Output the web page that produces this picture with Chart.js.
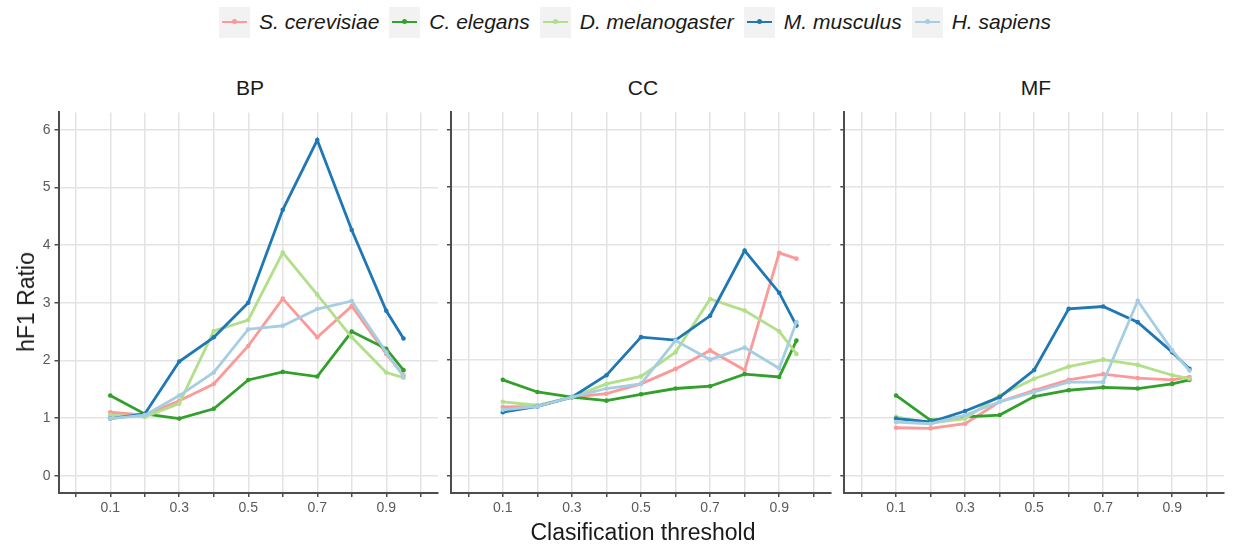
<!DOCTYPE html>
<html>
<head>
<meta charset="utf-8">
<script src="https://cdn.jsdelivr.net/npm/chart.js@4/dist/chart.umd.min.js"></script>
<style>
  html, body { margin: 0; padding: 0; background: #ffffff; }
  #wrap { position: relative; width: 1237px; height: 544px; overflow: hidden; background: #fff;
          font-family: "Liberation Sans", Arial, Helvetica, sans-serif; color: #1a1a1a; }
  canvas { position: absolute; }
  .strip { position: absolute; top: 74px; font-size: 21px; width: 200px; text-align: center; line-height: 28px; color: #1a1a1a; }
  #legend { position: absolute; left: 50px; width: 1170px; top: 7px; height: 30px; display: flex; justify-content: center; align-items: center; }
  .item { display: flex; align-items: center; margin: 0 5px; }
  .key { position: relative; width: 31px; height: 31px; background: #f2f2f2; margin-right: 9px; }
  .key .ln { position: absolute; left: 3px; right: 3px; top: 14px; height: 2.6px; }
  .key .pt { position: absolute; left: 13px; top: 12.5px; width: 5px; height: 5px; border-radius: 50%; }
  .lab { font-style: italic; font-size: 21px; color: #1a1a1a; white-space: nowrap; }
  #xtitle { position: absolute; left: 58px; width: 1170px; top: 518px; text-align: center; font-size: 23px; line-height: 28px; }
  #ytitle { position: absolute; left: 26px; top: 302px; font-size: 23px; line-height: 28px; white-space: nowrap;
            transform: translate(-50%, -50%) rotate(-90deg); }
</style>
</head>
<body>
<div id="wrap">
  <div id="legend"></div>
  <div class="strip" id="s0"></div>
  <div class="strip" id="s1"></div>
  <div class="strip" id="s2"></div>
  <canvas id="c0" width="442" height="444" style="left:0px;top:100px;width:442px;height:444px"></canvas>
  <canvas id="c1" width="392" height="444" style="left:443px;top:100px;width:392px;height:444px"></canvas>
  <canvas id="c2" width="392" height="444" style="left:836px;top:100px;width:392px;height:444px"></canvas>
  <div id="ytitle">hF1 Ratio</div>
  <div id="xtitle">Clasification threshold</div>
</div>
<script>
// ---------------- data ----------------
const thresholds = [0.1, 0.2, 0.3, 0.4, 0.5, 0.6, 0.7, 0.8, 0.9, 0.95];
const species = ['S. cerevisiae', 'C. elegans', 'D. melanogaster', 'M. musculus', 'H. sapiens'];
const speciesColors = ['#FB9A99', '#33A02C', '#B2DF8A', '#1F78B4', '#A6CEE3'];
const panelNames = ['BP', 'CC', 'MF'];
const yTickValues = [0, 1, 2, 3, 4, 5, 6];
const xTickValues = [0.0, 0.1, 0.2, 0.3, 0.4, 0.5, 0.6, 0.7, 0.8, 0.9, 1.0];
const xTickLabels = ['', '0.1', '', '0.3', '', '0.5', '', '0.7', '', '0.9', ''];
const xAxisTitle = 'Clasification threshold';
const yAxisTitle = 'hF1 Ratio';

// BP
const bpScer = [1.10, 1.05, 1.30, 1.59, 2.25, 3.07, 2.40, 2.94, 2.11, 1.74];
const bpCele = [1.39, 1.07, 0.99, 1.16, 1.66, 1.80, 1.72, 2.50, 2.20, 1.83];
const bpDmel = [1.05, 1.02, 1.25, 2.51, 2.70, 3.87, 3.14, 2.40, 1.79, 1.70];
const bpMmus = [0.99, 1.07, 1.98, 2.40, 3.00, 4.61, 5.82, 4.26, 2.86, 2.38];
const bpHsap = [0.99, 1.05, 1.39, 1.79, 2.54, 2.60, 2.89, 3.03, 2.14, 1.72];
// CC
const ccScer = [1.19, 1.20, 1.36, 1.42, 1.59, 1.85, 2.17, 1.83, 3.86, 3.76];
const ccCele = [1.66, 1.45, 1.36, 1.30, 1.41, 1.51, 1.55, 1.76, 1.71, 2.34];
const ccDmel = [1.28, 1.22, 1.36, 1.59, 1.72, 2.14, 3.06, 2.86, 2.50, 2.11];
const ccMmus = [1.10, 1.20, 1.36, 1.74, 2.40, 2.35, 2.77, 3.90, 3.17, 2.60];
const ccHsap = [1.14, 1.20, 1.36, 1.51, 1.59, 2.34, 2.01, 2.22, 1.86, 2.66];
// MF
const mfScer = [0.83, 0.82, 0.90, 1.28, 1.48, 1.66, 1.76, 1.69, 1.66, 1.71];
const mfCele = [1.39, 0.96, 1.02, 1.05, 1.37, 1.48, 1.53, 1.51, 1.59, 1.66];
const mfDmel = [1.02, 0.91, 0.99, 1.39, 1.68, 1.89, 2.01, 1.92, 1.74, 1.68];
const mfMmus = [0.99, 0.93, 1.12, 1.36, 1.83, 2.89, 2.93, 2.66, 2.14, 1.85];
const mfHsap = [0.93, 0.90, 1.05, 1.28, 1.45, 1.62, 1.62, 3.03, 2.17, 1.82];

const panelSeries = [
  [bpScer, bpCele, bpDmel, bpMmus, bpHsap],
  [ccScer, ccCele, ccDmel, ccMmus, ccHsap],
  [mfScer, mfCele, mfDmel, mfMmus, mfHsap]
];

// ---------------- text ----------------
document.getElementById('ytitle').textContent = yAxisTitle;
document.getElementById('xtitle').textContent = xAxisTitle;
const legend = document.getElementById('legend');
species.forEach((name, i) => {
  const it = document.createElement('div'); it.className = 'item';
  const k = document.createElement('div'); k.className = 'key';
  const ln = document.createElement('div'); ln.className = 'ln'; ln.style.background = speciesColors[i];
  const pt = document.createElement('div'); pt.className = 'pt'; pt.style.background = speciesColors[i];
  k.appendChild(ln); k.appendChild(pt);
  const lb = document.createElement('span'); lb.className = 'lab'; lb.textContent = name;
  it.appendChild(k); it.appendChild(lb);
  legend.appendChild(it);
});
const stripCenters = [250, 643, 1036];
panelNames.forEach((p, i) => {
  const s = document.getElementById('s' + i);
  s.textContent = p;
  s.style.left = (stripCenters[i] - 100) + 'px';
});

// ---------------- charts ----------------
const yAxisWidths = [58.5, 8, 8.3];
function makePanel(idx) {
  const datasets = species.map((name, si) => ({
    label: name,
    data: thresholds.map((t, k) => ({ x: t, y: panelSeries[idx][si][k] })),
    borderColor: speciesColors[si],
    backgroundColor: speciesColors[si],
    borderWidth: 2.8,
    pointRadius: 2.3,
    pointBorderWidth: 0,
    pointBackgroundColor: speciesColors[si],
    tension: 0,
    fill: false,
    order: species.length - 1 - si
  }));
  const showY = idx === 0;
  return new Chart(document.getElementById('c' + idx), {
    type: 'line',
    data: { datasets },
    options: {
      responsive: false,
      animation: false,
      devicePixelRatio: 1,
      layout: { padding: { top: 12, right: 0, bottom: 0, left: 0 } },
      plugins: { legend: { display: false }, tooltip: { enabled: false }, title: { display: false } },
      scales: {
        x: {
          type: 'linear',
          min: -0.05, max: 1.05,
          afterBuildTicks: (sc) => { sc.ticks = xTickValues.map(v => ({ value: v })); },
          afterFit: (sc) => { sc.height = 51; },
          ticks: {
            autoSkip: false, maxRotation: 0, minRotation: 0, padding: 3,
            color: '#5a5a5a',
            font: { family: '"Liberation Sans", Arial, sans-serif', size: 14 },
            callback: (v, i) => xTickLabels[i]
          },
          grid: { color: '#e3e3e3', lineWidth: 1.5, drawTicks: true, tickLength: 4, tickColor: '#4d4d4d', tickWidth: 1.5 },
          border: { display: true, color: '#4d4d4d', width: 2 }
        },
        y: {
          type: 'linear',
          min: -0.3, max: 6.3,
          afterBuildTicks: (sc) => { sc.ticks = yTickValues.map(v => ({ value: v })); },
          afterFit: (sc) => { sc.width = yAxisWidths[idx]; },
          ticks: {
            display: showY, padding: 4,
            color: '#5a5a5a',
            font: { family: '"Liberation Sans", Arial, sans-serif', size: 14 },
            callback: (v) => String(v)
          },
          grid: { color: '#e3e3e3', lineWidth: 1.5, drawTicks: true, tickLength: 4, tickColor: '#4d4d4d', tickWidth: 1.5 },
          border: { display: true, color: '#4d4d4d', width: 2 }
        }
      }
    }
  });
}
[0, 1, 2].forEach(makePanel);
</script>
</body>
</html>
